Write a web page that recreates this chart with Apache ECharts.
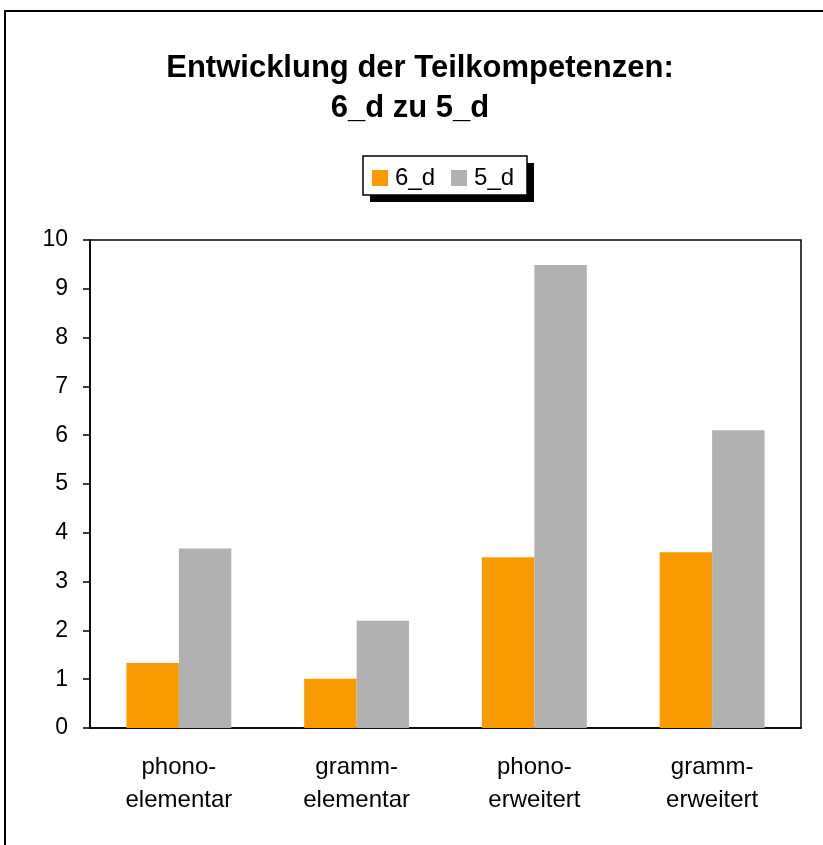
<!DOCTYPE html>
<html><head><meta charset="utf-8">
<script src="https://cdn.jsdelivr.net/npm/echarts@6/dist/echarts.min.js"></script>
<style>html,body{margin:0;padding:0;background:#fff}#c{width:823px;height:845px}</style>
</head><body><div id="c"></div>
<script>
const categories = ['phono-\nelementar', 'gramm-\nelementar', 'phono-\nerweitert', 'gramm-\nerweitert'];
const series6d = [1.33, 1.01, 3.5, 3.6];
const series5d = [3.68, 2.2, 9.49, 6.1];
const yTicks = [0, 10, 1];
const titleLines = ['Entwicklung der Teilkompetenzen:', '6_d zu 5_d'];

const chart = echarts.init(document.getElementById('c'), null, {renderer: 'canvas'});
const font = '"Liberation Sans", Arial, sans-serif';
const titleStyle = {fontFamily: font, fontSize: 31, fontWeight: 'bold', color: '#000', lineHeight: 36};
chart.setOption({
  animation: false,
  backgroundColor: '#fff',
  graphic: [
    {type: 'rect', shape: {x: 5, y: 11, width: 900, height: 900},
     style: {fill: 'none', stroke: '#000', lineWidth: 2}, z: 0},
    {type: 'rect', shape: {x: 370, y: 163, width: 164, height: 39},
     style: {fill: '#000'}, z: 1},
    {type: 'rect', shape: {x: 363, y: 156, width: 164, height: 39},
     style: {fill: '#fff', stroke: '#000', lineWidth: 1.5}, z: 2}
  ],
  title: [
    {text: titleLines[0], left: 420, top: 50, padding: 0, textAlign: 'center', textStyle: titleStyle},
    {text: titleLines[1], left: 410, top: 90, padding: 0, textAlign: 'center', textStyle: titleStyle}
  ],
  legend: {
    top: 166, left: 372, z: 10,
    itemWidth: 16, itemHeight: 16, itemGap: 16,
    padding: 0,
    icon: 'rect',
    textStyle: {fontFamily: font, fontSize: 24, color: '#000', padding: [0, 0, 0, 2]},
    data: ['6_d', '5_d']
  },
  grid: {left: 90, top: 240, right: 22, bottom: 117, show: true, borderColor: '#000', borderWidth: 1.5, containLabel: false},
  xAxis: {
    type: 'category', data: categories,
    axisLine: {lineStyle: {color: '#000', width: 1.5}},
    axisTick: {show: false},
    axisLabel: {fontFamily: font, fontSize: 24, color: '#000', margin: 23, lineHeight: 33}
  },
  yAxis: {
    type: 'value', min: yTicks[0], max: yTicks[1], interval: yTicks[2],
    axisLine: {show: true, lineStyle: {color: '#000', width: 1.5}},
    axisTick: {show: true, length: 7, lineStyle: {color: '#000', width: 1.5}},
    splitLine: {show: false},
    axisLabel: {fontFamily: font, fontSize: 23, color: '#000', margin: 22}
  },
  series: [
    {name: '6_d', type: 'bar', data: series6d, barGap: '0%', barCategoryGap: '41%', itemStyle: {color: '#F99B00'}},
    {name: '5_d', type: 'bar', data: series5d, itemStyle: {color: '#B1B1B1'}}
  ]
});
</script></body></html>
